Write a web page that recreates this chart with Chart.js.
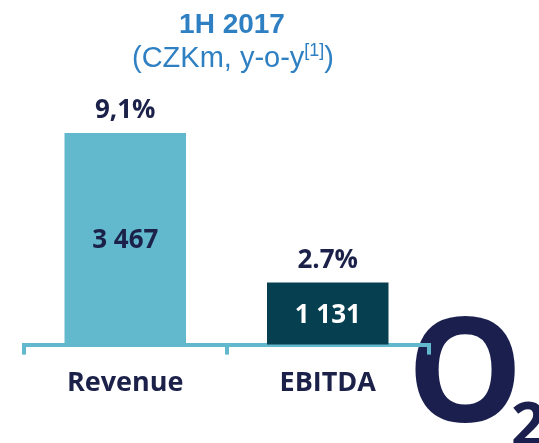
<!DOCTYPE html>
<html>
<head>
<meta charset="utf-8">
<script src="https://cdn.jsdelivr.net/npm/chart.js@4.4.0/dist/chart.umd.min.js"></script>
<style>
  html, body { margin: 0; padding: 0; background: #ffffff; }
  #wrap { position: relative; width: 539px; height: 443px; }
  canvas { display: block; }
</style>
</head>
<body>
<div id="wrap"><canvas id="c" width="539" height="443"></canvas></div>
<script>
// ---- data ----
const categories = ['Revenue', 'EBITDA'];
const values = [3467, 1131];
const valueLabels = ['3 467', '1 131'];
const growthLabels = ['9,1%', '2.7%'];
const titleText = '1H 2017';
const subtitleMain = '(CZKm, y-o-y';
const subtitleSup = '[1]';
const subtitleEnd = ')';

const barColors = ['#62b8cc', '#063f50'];
const valueColors = ['#1b2149', '#ffffff'];
const navy = '#1b2149';
const axisColor = '#62b8cc';
const titleColor = '#2f80c2';

const overlay = {
  id: 'overlay',
  beforeDraw(chart) {
    const ctx = chart.ctx;
    ctx.save();
    // O2 logo (drawn first so the axis sits on top of it)
    ctx.fillStyle = '#1a1f4e';
    ctx.textBaseline = 'alphabetic';
    ctx.textAlign = 'center';
    ctx.font = 'bold 146px "Open Sans"';
    ctx.fillText('O', 465, 422);
    ctx.textAlign = 'left';
    ctx.font = 'bold 60px "Open Sans"';
    ctx.fillText('2', 511, 446);
    ctx.restore();
  },
  afterDatasetsDraw(chart) {
    const ctx = chart.ctx;
    const meta = chart.getDatasetMeta(0);
    ctx.save();
    ctx.textAlign = 'center';
    ctx.textBaseline = 'middle';
    ctx.font = 'bold 26px "Open Sans"';
    meta.data.forEach((bar, i) => {
      const mid = (bar.y + bar.base) / 2;
      ctx.fillStyle = valueColors[i];
      ctx.fillText(valueLabels[i], bar.x, mid - 3);
      ctx.fillStyle = navy;
      ctx.fillText(growthLabels[i], bar.x, bar.y - 22);
    });
    ctx.restore();
  },
  afterDraw(chart) {
    const ctx = chart.ctx;
    ctx.save();
    // title
    ctx.fillStyle = titleColor;
    ctx.textBaseline = 'alphabetic';
    ctx.textAlign = 'center';
    ctx.font = 'bold 28px "Liberation Sans", Arial, sans-serif';
    ctx.fillText(titleText, 232, 33);
    // subtitle with superscript
    const fMain = '29px "Liberation Sans", Arial, sans-serif';
    const fSup = '18px "Liberation Sans", Arial, sans-serif';
    ctx.font = fMain;
    const w1 = ctx.measureText(subtitleMain).width;
    const w3 = ctx.measureText(subtitleEnd).width;
    ctx.font = fSup;
    const w2 = ctx.measureText(subtitleSup).width;
    let x = 233 - (w1 + w2 + w3) / 2;
    ctx.textAlign = 'left';
    ctx.font = fMain;
    ctx.fillText(subtitleMain, x, 67);
    x += w1;
    ctx.font = fSup;
    ctx.fillText(subtitleSup, x, 56);
    x += w2;
    ctx.font = fMain;
    ctx.fillText(subtitleEnd, x, 67);
    ctx.restore();
  }
};

new Chart(document.getElementById('c'), {
  type: 'bar',
  data: {
    labels: categories,
    datasets: [{
      data: values,
      backgroundColor: barColors,
      borderWidth: 0,
      barPercentage: 0.6,
      categoryPercentage: 1.0
    }]
  },
  options: {
    responsive: false,
    animation: false,
    devicePixelRatio: 1,
    layout: { padding: { left: 24, right: 110, top: 133, bottom: 30 } },
    plugins: { legend: { display: false }, tooltip: { enabled: false }, title: { display: false } },
    scales: {
      x: {
        offset: true,
        grid: {
          offset: true,
          display: true,
          drawOnChartArea: false,
          drawTicks: true,
          tickLength: 10,
          color: axisColor,
          lineWidth: 4
        },
        border: { display: true, color: axisColor, width: 4 },
        ticks: {
          color: navy,
          padding: 13,
          font: { family: '"Open Sans"', size: 27, weight: 'bold' }
        }
      },
      y: {
        display: false,
        min: 160,
        max: Math.max(...values)
      }
    }
  },
  plugins: [overlay]
});
</script>
</body>
</html>
